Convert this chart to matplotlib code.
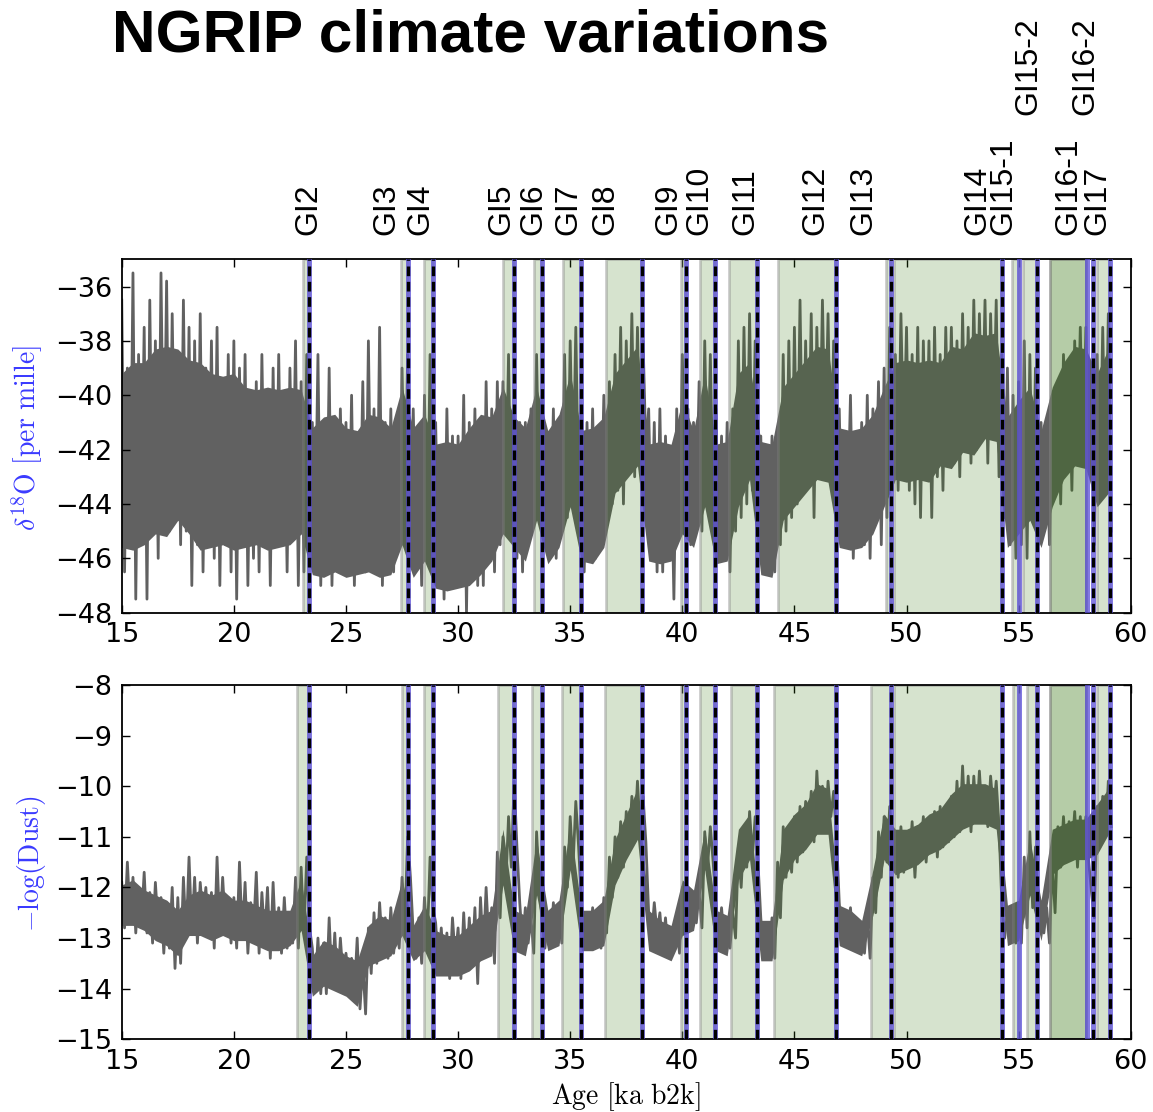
import numpy as np
import matplotlib
matplotlib.use('Agg')
import matplotlib.pyplot as plt
import matplotlib.transforms as mtransforms

# --- data (ka b2k) ---
age_start = 15.0
age_step = 0.25     # spike envelope sampling
core_step = 0.5     # dense core band sampling

# delta18O spike tops / bottoms, one value per 0.25 ka from 15.0
d18o_upper = [
    -36.5, -39.0, -35.5, -38.5,  -37.5, -36.5, -38.0, -35.5,  -35.8, -37.0, -38.5, -36.5,
    -37.5, -38.0, -37.0, -39.0,  -38.0, -37.5, -39.5, -38.5,  -38.0, -39.0, -38.5, -40.0,
    -39.5, -38.5, -40.0, -39.0,  -38.5, -40.0, -39.0, -38.0,  -39.5, -38.5, -41.0, -38.5,
    -41.0, -39.0, -41.5, -40.5,  -41.0, -40.0, -41.5, -39.5,  -38.0, -40.5, -37.5, -41.0,
    -40.5, -41.0, -39.0, -38.5,  -40.5, -41.5, -40.0, -38.5,  -41.0, -42.0, -40.5, -41.5,
    -41.5, -40.0, -41.0, -40.5,  -41.0, -39.5, -40.5, -39.5,  -39.5, -38.5, -40.5, -41.0,
    -41.0, -40.5, -38.5, -40.0,  -41.5, -40.5, -41.0, -38.5,  -38.0, -37.5, -40.5, -41.0,
    -40.5, -41.5, -40.0, -39.5,  -38.5, -37.5, -38.0, -37.0,  -37.5, -38.0, -40.5, -41.0,
    -40.5, -41.5, -42.0, -40.5,  -38.5, -40.5, -41.0, -39.5,  -38.0, -38.5, -40.5, -41.5,
    -41.0, -40.5, -38.0, -37.5,  -37.0, -38.0, -41.5, -42.0,  -41.5, -42.0, -38.5, -38.0,
    -37.5, -36.5, -38.0, -37.0,  -37.5, -36.5, -37.0, -38.0,  -40.5, -41.5, -40.0, -42.0,
    -41.0, -40.0, -40.5, -39.5,  -39.0, -37.5, -38.5, -37.0,  -37.5, -38.5, -37.5, -38.0,
    -38.0, -37.5, -38.5, -37.5,  -37.5, -38.0, -37.0, -37.5,  -36.5, -37.0, -36.5, -37.0,
    -36.5, -38.5, -39.0, -40.0,  -39.5, -38.0, -38.5, -39.0,  -41.0, -41.5, -40.0, -39.5,
    -38.5, -39.0, -38.0, -37.5,  -37.5, -40.0, -38.5, -37.5,  -37.0,
]
d18o_lower = [
    -46.5, -45.5, -47.5, -44.5,  -47.5, -45.0, -46.0, -44.0,  -45.0, -44.0, -45.5, -45.0,
    -47.0, -45.5, -46.5, -45.0,  -46.0, -47.0, -45.5, -46.5,  -47.5, -45.5, -47.0, -46.0,
    -46.5, -45.0, -47.0, -45.5,  -45.5, -46.5, -44.5, -47.0,  -46.5, -45.0, -45.5, -47.0,
    -46.5, -47.0, -46.0, -45.5,  -46.0, -47.0, -45.5, -46.5,  -45.5, -46.5, -47.0, -46.0,
    -46.5, -45.5, -45.0, -44.0,  -45.5, -47.0, -46.0, -44.5,  -46.5, -47.5, -46.0, -47.0,
    -46.5, -48.0, -46.0, -47.0,  -47.0, -45.5, -46.5, -45.5,  -44.5, -45.0, -46.0, -46.5,
    -45.5, -44.5, -44.0, -45.0,  -45.5, -46.0, -44.5, -44.5,  -43.5, -44.0, -46.5, -45.5,
    -46.0, -45.0, -44.5, -44.0,  -43.5, -44.0, -42.5, -43.0,  -42.5, -42.0, -45.5, -46.5,
    -46.5, -45.5, -47.5, -45.0,  -44.0, -45.5, -44.5, -45.0,  -43.5, -44.0, -45.5, -46.0,
    -46.5, -45.0, -44.5, -44.0,  -43.5, -44.0, -46.5, -46.0,  -46.5, -45.5, -45.0, -44.5,
    -44.0, -43.5, -43.0, -44.5,  -42.5, -42.0, -43.0, -42.5,  -45.5, -44.5, -46.0, -45.0,
    -45.5, -46.0, -44.5, -45.5,  -44.5, -43.5, -43.5, -42.0,  -43.5, -44.0, -44.5, -43.0,
    -44.5, -43.0, -43.5, -42.5,  -42.5, -43.0, -42.0, -42.5,  -42.0, -41.5, -42.5, -41.5,
    -43.0, -44.5, -45.5, -46.0,  -45.5, -46.0, -44.5, -45.5,  -45.0, -45.5, -43.5, -44.0,
    -42.5, -43.5, -42.0, -42.5,  -42.5, -45.5, -43.5, -43.0,  -45.0,
]
# delta18O dense core band, one value per 0.5 ka from 15.0
d18o_core_top = [
    -39.2, -38.8, -38.8, -38.3, -38.2, -38.3, -38.7, -38.8, -39.2, -39.3,
    -39.2, -39.7, -39.8, -39.7, -39.8, -39.7, -39.8, -41.2, -40.8, -40.7,
    -41.2, -41.3, -40.7, -40.8, -41.2, -39.7, -41.2, -40.7, -41.8, -41.7,
    -41.8, -41.2, -40.7, -40.8, -39.7, -40.8, -41.2, -39.7, -41.3, -40.7,
    -39.2, -41.3, -41.2, -40.8, -39.2, -38.7, -38.2, -41.8, -41.7, -41.8,
    -40.2, -41.3, -39.2, -41.8, -41.7, -39.2, -38.8, -41.7, -41.8, -39.7,
    -39.2, -38.7, -38.2, -38.3, -41.2, -41.3, -41.2, -40.7, -39.7, -38.8,
    -38.7, -38.8, -38.7, -38.8, -38.2, -38.3, -37.7, -37.8, -37.7, -40.8,
    -40.2, -39.7, -41.3, -39.7, -38.8, -38.2, -38.3, -39.2, -38.3,
]
d18o_core_bottom = [
    -45.6, -45.7, -45.5, -45.1, -45.2, -44.6, -45.1, -45.7, -45.6, -45.5,
    -45.7, -45.6, -45.5, -45.7, -45.6, -45.5, -45.1, -46.6, -46.7, -46.5,
    -46.7, -46.6, -46.5, -46.7, -46.6, -45.5, -46.7, -46.1, -47.1, -47.2,
    -47.1, -47.0, -46.6, -46.1, -45.1, -45.6, -46.1, -44.6, -46.2, -45.6,
    -44.1, -46.1, -46.2, -45.6, -43.6, -43.1, -42.6, -46.1, -46.2, -46.1,
    -45.1, -45.6, -44.1, -46.2, -46.1, -44.1, -43.1, -46.6, -46.7, -44.6,
    -44.1, -43.6, -43.1, -43.2, -45.6, -45.7, -45.6, -45.1, -44.1, -43.1,
    -43.2, -43.1, -43.2, -42.6, -42.7, -42.1, -42.2, -41.6, -41.7, -45.6,
    -45.1, -44.6, -45.6, -44.1, -43.1, -42.6, -42.7, -44.1, -43.6,
]

# -log(dust) spike tops / bottoms, same sampling as d18o
dust_upper = [
    -11.9, -11.5, -11.8, -12.0,  -11.7, -12.1, -11.9, -12.2,  -12.3, -12.0, -12.2, -11.8,
    -11.4, -11.8, -11.9, -12.0,  -12.1, -11.4, -11.8, -12.2,  -12.2, -11.5, -11.9, -12.3,
    -11.7, -12.1, -12.0, -11.9,  -12.4, -12.2, -12.5, -11.8,  -11.6, -11.4, -13.2, -13.0,
    -13.1, -12.6, -12.9, -13.0,  -13.3, -13.4, -13.0, -13.5,  -12.8, -12.5, -12.3, -12.6,
    -12.4, -12.7, -11.8, -11.0,  -12.9, -12.6, -12.2, -11.4,  -12.7, -12.8, -12.9, -12.6,
    -12.8, -12.5, -12.6, -12.4,  -12.2, -12.0, -12.4, -11.3,  -11.0, -10.6, -9.9, -12.3,
    -12.4, -12.6, -10.9, -12.7,  -12.5, -12.3, -12.4, -11.2,  -10.6, -10.3, -12.3, -12.5,
    -12.4, -12.6, -12.2, -11.4,  -11.0, -10.7, -10.5, -10.2,  -9.9, -10.2, -12.5, -12.3,
    -12.5, -12.6, -12.8, -12.7,  -12.0, -12.0, -12.2, -12.1,  -10.9, -10.8, -12.3, -12.4,
    -12.6, -12.5, -11.2, -10.9,  -10.5, -10.6, -12.6, -12.8,  -12.6, -11.5, -10.8, -11.0,
    -10.6, -10.4, -10.3, -10.1,  -9.7, -10.0, -9.9, -10.1,  -12.3, -12.5, -12.4, -12.6,
    -12.7, -12.6, -11.8, -10.9,  -10.6, -10.4, -11.0, -10.8,  -10.9, -10.7, -10.8, -10.6,
    -10.7, -10.5, -10.4, -10.6,  -10.2, -9.9, -9.6, -9.8,  -9.8, -9.7, -10.0, -9.8,
    -9.9, -12.3, -12.5, -12.4,  -12.4, -11.4, -10.9, -11.2,  -12.3, -12.4, -11.5, -10.8,
    -10.6, -10.7, -10.5, -10.6,  -10.6, -12.1, -10.4, -10.2,  -9.9,
]
dust_lower = [
    -12.8, -12.6, -12.9, -12.7,  -12.9, -13.1, -12.8, -13.3,  -13.2, -13.6, -13.5, -13.0,
    -12.9, -13.1, -12.6, -12.9,  -13.2, -12.9, -12.8, -13.1,  -13.2, -13.0, -13.3, -12.9,
    -13.3, -13.0, -13.4, -13.2,  -13.3, -13.2, -13.1, -13.2,  -12.9, -12.8, -14.0, -14.1,
    -14.1, -13.9, -14.0, -13.8,  -13.9, -14.1, -14.4, -14.5,  -13.7, -13.5, -13.2, -13.4,
    -13.3, -13.2, -12.8, -11.8,  -13.4, -13.5, -13.1, -12.4,  -13.6, -13.7, -13.8, -13.4,
    -13.8, -13.6, -13.5, -13.9,  -13.3, -13.1, -13.5, -12.6,  -12.0, -11.6, -11.2, -13.1,
    -13.1, -13.3, -12.0, -13.2,  -13.2, -13.0, -13.1, -12.0,  -11.6, -11.2, -13.0, -13.2,
    -13.1, -13.2, -12.9, -12.2,  -11.8, -11.6, -11.2, -11.0,  -10.9, -11.1, -13.0, -12.9,
    -13.2, -13.3, -13.1, -13.3,  -12.9, -12.7, -12.7, -12.8,  -11.6, -11.5, -13.0, -13.1,
    -13.2, -13.0, -12.0, -11.6,  -11.4, -11.5, -13.3, -13.4,  -13.4, -12.6, -11.8, -11.7,
    -11.5, -11.3, -11.0, -11.1,  -10.8, -10.9, -10.6, -11.0,  -13.0, -13.1, -13.2, -13.0,
    -13.3, -13.4, -12.5, -11.8,  -11.5, -11.3, -11.8, -11.7,  -11.6, -11.8, -11.4, -11.5,
    -11.3, -11.4, -11.2, -11.1,  -11.0, -10.9, -10.8, -10.9,  -10.7, -10.6, -10.8, -10.5,
    -10.8, -13.0, -12.9, -13.1,  -13.1, -12.8, -12.4, -12.6,  -12.9, -13.1, -12.5, -11.6,
    -11.5, -11.3, -11.6, -11.4,  -11.5, -12.6, -11.2, -11.0,  -10.8,
]
# -log(dust) dense core band, one value per 0.5 ka from 15.0
dust_core_top = [
    -11.95, -11.85, -12.05, -12.15, -12.25, -12.45, -12.15, -12.05, -12.15, -12.05,
    -12.25, -12.25, -12.35, -12.45, -12.45, -12.45, -11.85, -13.35, -13.05, -13.15,
    -13.35, -13.45, -12.75, -12.55, -12.65, -11.85, -12.75, -12.35, -12.85, -12.95,
    -12.95, -12.75, -12.55, -12.45, -10.85, -12.45, -12.55, -11.05, -12.45, -12.25,
    -10.75, -12.45, -12.45, -12.25, -11.05, -10.55, -10.05, -12.45, -12.65, -12.75,
    -11.85, -12.05, -10.85, -12.45, -12.55, -10.85, -10.55, -12.65, -12.65, -10.85,
    -10.55, -10.35, -9.95, -10.05, -12.35, -12.45, -12.65, -11.65, -10.55, -10.85,
    -10.85, -10.75, -10.55, -10.45, -10.15, -9.95, -9.95, -9.95, -10.05, -12.35,
    -12.25, -11.05, -12.25, -10.85, -10.75, -10.65, -10.65, -10.35, -10.05,
]
dust_core_bottom = [
    -12.75, -12.75, -12.85, -13.05, -13.15, -13.35, -12.95, -12.95, -13.05, -12.95,
    -13.05, -13.05, -13.15, -13.25, -13.25, -13.15, -12.85, -14.15, -13.95, -14.05,
    -14.15, -14.35, -13.55, -13.45, -13.35, -12.95, -13.45, -13.25, -13.75, -13.75,
    -13.75, -13.65, -13.45, -13.35, -11.95, -13.25, -13.35, -12.15, -13.25, -13.15,
    -11.65, -13.25, -13.25, -13.15, -11.95, -11.45, -11.05, -13.25, -13.35, -13.45,
    -12.95, -12.85, -11.65, -13.25, -13.35, -11.85, -11.45, -13.45, -13.45, -11.85,
    -11.45, -11.25, -10.95, -10.95, -13.15, -13.25, -13.35, -12.55, -11.45, -11.75,
    -11.65, -11.55, -11.35, -11.25, -11.05, -10.85, -10.75, -10.75, -10.85, -13.15,
    -13.05, -12.15, -13.05, -11.75, -11.55, -11.45, -11.45, -11.35, -10.95,
]

# interstadial onsets
onset_dashed = [23.35, 27.78, 28.90, 32.51, 33.73, 35.47, 38.19, 40.17, 41.46,
                43.35, 46.86, 49.32, 54.24, 55.80, 58.32, 59.08]
onset_blue = onset_dashed + [55.01, 58.07]

# interstadial periods (start, end) for each panel
spans_d18o = [(23.09, 23.35), (27.44, 27.78), (28.50, 28.90), (31.99, 32.51),
              (33.40, 33.73), (34.70, 35.47), (36.59, 38.19), (39.93, 40.17),
              (40.79, 41.46), (42.10, 43.35), (44.29, 46.86), (49.09, 49.32),
              (49.42, 54.24), (54.72, 55.01), (55.21, 55.80), (56.40, 57.99),
              (56.40, 57.99), (58.51, 59.08)]
spans_dust = [(22.81, 23.35), (27.52, 27.78), (28.50, 28.90), (31.80, 32.51),
              (33.31, 33.73), (34.63, 35.47), (36.56, 38.19), (39.93, 40.17),
              (40.79, 41.46), (42.18, 43.35), (44.11, 46.86), (48.41, 49.32),
              (49.42, 54.24), (54.77, 55.01), (55.37, 55.80), (56.40, 57.99),
              (56.40, 57.99), (58.51, 59.08)]

gi_names = ['GI2', 'GI3', 'GI4', 'GI5', 'GI6', 'GI7', 'GI8', 'GI9', 'GI10', 'GI11',
            'GI12', 'GI13', 'GI14', 'GI15-1', 'GI15-2', 'GI16-1', 'GI16-2', 'GI17']
gi_label_age = [23.31, 26.79, 28.30, 31.91, 33.38, 34.90, 36.55, 39.37, 40.75, 42.80,
                45.92, 48.07, 53.15, 54.31, 55.42, 57.21, 57.97, 58.51]
gi_label_row = [0, 0, 0, 0, 0, 0, 0, 0, 0, 0, 0, 0, 0, 0, 1, 0, 1, 0]


# Style
plt.rcParams['mathtext.fontset'] = 'cm'
plt.rcParams['font.family'] = 'DejaVu Sans'
plt.rc('xtick', labelsize=19.5, direction='in', top=True)
plt.rc('ytick', labelsize=19.5, direction='in', right=True)
plt.rc('xtick.major', size=6, width=1.0, pad=7)
plt.rc('ytick.major', size=6, width=1.0, pad=7)

line_color = '0.38'
span_face = (0.2, 0.45, 0.05, 0.2)
span_edge = (0.5, 0.5, 0.5, 0.4)
blue_color = '#5a4ed8'

fig = plt.figure(figsize=(11.53, 11.12), dpi=100)
ax1 = fig.add_axes([0.1056, 0.4490, 0.8751, 0.3178])
ax2 = fig.add_axes([0.1056, 0.0654, 0.8751, 0.3186])

panels = [
    (ax1, d18o_upper, d18o_lower, d18o_core_top, d18o_core_bottom, spans_d18o,
     (-48, -35), np.arange(-48, -35, 2)),
    (ax2, dust_upper, dust_lower, dust_core_top, dust_core_bottom, spans_dust,
     (-15, -8), np.arange(-15, -7, 1)),
]
for ax, up, lo, ctop, cbot, spans, ylim, yticks in panels:
    # dense core of the record
    t_core = age_start + core_step*np.arange(len(ctop))
    ax.fill_between(t_core, cbot, ctop, color=line_color, lw=0, zorder=1)
    # spikes: zigzag between spike tops and bottoms
    t_up = age_start + age_step*np.arange(len(up))
    t = np.column_stack([t_up, t_up + age_step/2]).ravel()
    v = np.column_stack([up, lo]).ravel()
    ax.plot(t, v, color=line_color, lw=2.0, zorder=1)
    for a, b in spans:
        ax.axvspan(a, b, facecolor=span_face, edgecolor=span_edge, lw=2.0, zorder=2)
    for x in onset_blue:
        ax.axvline(x, color=blue_color, lw=3.6, alpha=0.75, zorder=3)
    for x in onset_dashed:
        ax.axvline(x, color='black', lw=2.4, dashes=(2.9, 1.7), zorder=4)
    ax.set_xlim(15, 60)
    ax.set_ylim(*ylim)
    ax.set_yticks(yticks)
    ax.set_xticks(np.arange(15, 61, 5))
    for s in ax.spines.values():
        s.set_linewidth(1.3)

# GI labels above the top panel
trans = mtransforms.blended_transform_factory(ax1.transData, ax1.transAxes)
for name, age, row in zip(gi_names, gi_label_age, gi_label_row):
    y = 1.068 if row == 0 else 1.407
    ax1.text(age, y, name, transform=trans, rotation=90, ha='center', va='bottom',
             fontsize=23, family='Liberation Sans')

fig.text(0.097, 0.992, 'NGRIP climate variations', ha='left', va='top',
         fontsize=43.5, fontweight='bold', family='Liberation Sans')

fig.text(27/1153, 1 - 438/1112, r'$\delta^{18}\mathrm{O}\ \mathrm{[per\ mille]}$',
         rotation=90, ha='center', va='center', fontsize=20, color='#3a3aff')
fig.text(32/1153, 1 - 864/1112, r'$-\log(\mathrm{Dust})$',
         rotation=90, ha='center', va='center', fontsize=20, color='#3a3aff')
fig.text(626/1153, 1 - 1097/1112, r'$\mathrm{Age\ [ka\ b2k]}$',
         ha='center', va='center', fontsize=20)

fig.savefig('out.png', dpi=100)
